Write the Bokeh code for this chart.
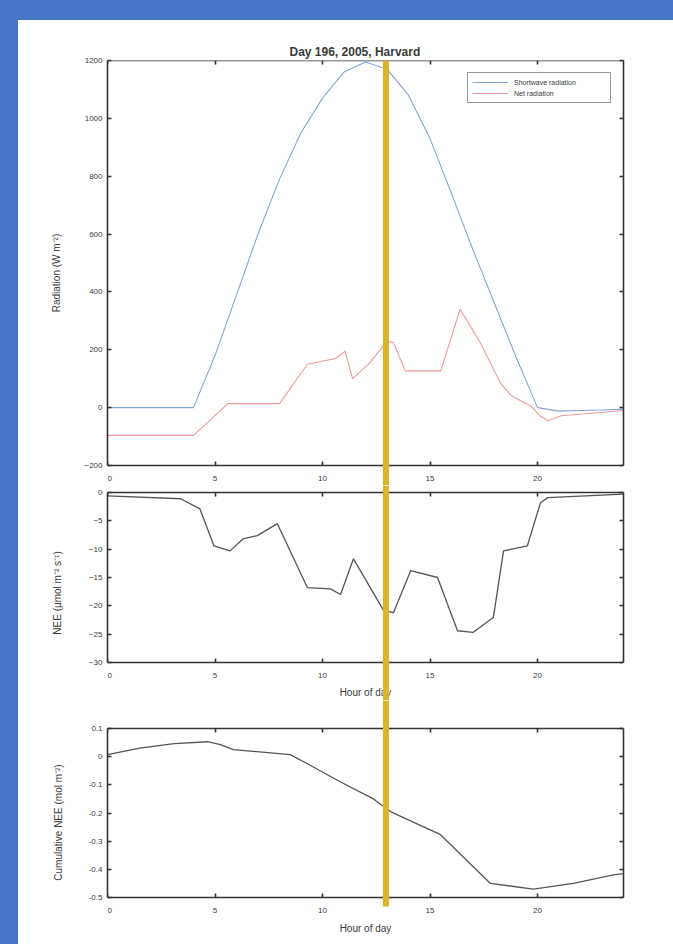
from bokeh.plotting import figure
from bokeh.layouts import column, row
from bokeh.models import (FixedTicker, LinearAxis, BoxAnnotation, Range1d, Legend,
                          LegendItem, Spacer, CustomJSTickFormatter, GlobalInlineStyleSheet,
                          CustomLabelingPolicy)
from bokeh.embed import file_html
from bokeh.resources import INLINE

# ---------------- data ----------------
HOUR_TICKS = [0, 5, 10, 15, 20]

sw_hours = [0, 1, 2, 3, 4, 5, 6, 7, 8, 9, 10, 11, 12, 13, 14, 15, 16, 17, 18, 19, 20, 21, 22, 23, 24]
sw_values = [0, 0, 0, 0, 0, 180, 390, 600, 790, 950, 1070, 1160, 1195, 1170, 1080, 930, 740, 545,
             360, 175, 0, -12, -10, -8, -5]

rn_hours = [0, 4.0, 5.6, 8.0, 9.3, 10.6, 11.05, 11.4, 12.2, 13.0, 13.3, 13.85, 15.5, 16.4, 17.3,
            18.3, 18.8, 19.7, 20.1, 20.5, 21.1, 24]
rn_values = [-96, -96, 14, 14, 150, 170, 195, 100, 155, 230, 225, 127, 127, 340, 230, 82, 40, 5,
             -28, -45, -28, -10]

nee_hours = [0, 3.4, 4.3, 4.95, 5.7, 6.3, 6.97, 7.9, 9.3, 10.37, 10.84, 11.44, 12.84, 13.3, 14.1,
             15.35, 16.28, 17.0, 17.95, 18.42, 19.53, 20.14, 20.47, 24]
nee_values = [-0.6, -1.1, -2.9, -9.4, -10.3, -8.2, -7.6, -5.5, -16.8, -17.0, -18.0, -11.7, -20.8,
              -21.2, -13.8, -15.0, -24.4, -24.7, -22.0, -10.3, -9.4, -1.8, -0.9, -0.3]

cum_hours = [0, 1.5, 3.1, 4.65, 5.25, 5.86, 8.5, 9.3, 10.84, 12.37, 13.16, 15.49, 17.81, 19.81,
             21.67, 23.53, 24]
cum_values = [0.007, 0.03, 0.046, 0.053, 0.043, 0.025, 0.007, -0.025, -0.09, -0.15, -0.195, -0.277,
              -0.45, -0.47, -0.45, -0.42, -0.415]

RAD_LIM = (-200, 1200)
NEE_LIM = (-30, 0)
CUM_LIM = (-0.5, 0.1)
RAD_TICKS = [-200, 0, 200, 400, 600, 800, 1000, 1200]
NEE_TICKS = [-30, -25, -20, -15, -10, -5, 0]
CUM_TICKS = [-0.5, -0.4, -0.3, -0.2, -0.1, 0, 0.1]

CURSOR_HOUR = 12.95
TITLE = "Day 196, 2005, Harvard"
LEGEND_LABELS = ["Shortwave radiation", "Net radiation"]

# ---------------- styles / layout ----------------
BG = "#4a76c8"
AX = "#333333"
TXT = "#3a3a3a"
YELLOW = "#d8b52a"
W = 655
NO_LABELS_CODE = """
const arr = [...indices]
for (const i of arr) indices.unset(i)
return indices
"""


def style_axis(ax, labels=True, standoff=8):
    ax.axis_line_color = AX
    ax.axis_line_width = 1.6
    ax.major_tick_in = 4
    ax.major_tick_out = 0
    ax.major_tick_line_color = AX
    ax.major_tick_line_width = 1.6
    ax.minor_tick_line_color = None
    ax.major_label_text_color = TXT
    ax.major_label_text_font_size = "8px"
    ax.major_label_standoff = standoff
    ax.axis_label_text_font_size = "10px"
    ax.axis_label_text_font_style = "normal"
    ax.axis_label_text_color = TXT
    if not labels:
        ax.major_label_policy = CustomLabelingPolicy(code=NO_LABELS_CODE)
        ax.major_label_standoff = 0


def padded(lim, panel_px, pad_top_px, pad_bottom_px):
    lo, hi = lim
    per_px = (hi - lo) / panel_px
    return lo - pad_bottom_px * per_px, hi + pad_top_px * per_px


def make_fig(height, lim, yticks, panel_px, pad_top, pad_bottom, border_top):
    ylo, yhi = padded(lim, panel_px, pad_top, pad_bottom)
    p = figure(width=W, height=height, x_range=Range1d(0, 24), y_range=Range1d(ylo, yhi),
               min_border_left=89, min_border_right=50, min_border_top=border_top,
               min_border_bottom=0, output_backend="svg", toolbar_location=None)
    p.grid.visible = False
    p.outline_line_color = None
    p.background_fill_color = "white"
    p.border_fill_color = "white"
    xb = p.xaxis[0]
    yl = p.yaxis[0]
    xb.ticker = FixedTicker(ticks=HOUR_TICKS)
    xb.fixed_location = lim[0]
    xb.major_label_overrides = {0: "\u00a0\u00a00"}
    yl.ticker = FixedTicker(ticks=yticks)
    yl.bounds = lim
    style_axis(xb, True, 8)
    style_axis(yl, True, 5)
    xt = LinearAxis(ticker=FixedTicker(ticks=HOUR_TICKS), fixed_location=lim[1])
    style_axis(xt, False)
    p.add_layout(xt, "above")
    yr = LinearAxis(ticker=FixedTicker(ticks=yticks), bounds=lim)
    style_axis(yr, False)
    p.add_layout(yr, "right")
    return p, xb, yl


# ---- top panel (plot box 405 px tall, 20 px of gap below it) ----
p1, p1x, p1y = make_fig(465, RAD_LIM, RAD_TICKS, 405, 0, 20, 40)
p1y.axis_label = "Radiation (W m\u207b\u00b2)"
p1y.axis_label_standoff = 19
p1.title.text = TITLE
p1.title.align = "left"
p1.title.offset = 182
p1.title.text_font_size = "12px"
p1.title.text_font_style = "bold"
p1.title.text_color = TXT
p1.title.standoff = 4
r_sw = p1.line(sw_hours, sw_values, line_color="#86a6d6", line_width=1.1)
r_rn = p1.line(rn_hours, rn_values, line_color="#ee9a9a", line_width=1.1)
leg = Legend(items=[LegendItem(label=LEGEND_LABELS[0], renderers=[r_sw]),
                    LegendItem(label=LEGEND_LABELS[1], renderers=[r_rn])],
             location="top_right")
leg.margin = 12
leg.padding = 4
leg.spacing = 1
leg.glyph_width = 36
leg.glyph_height = 10
leg.label_height = 10
leg.label_width = 92
leg.label_standoff = 6
leg.label_text_font_size = "7px"
leg.label_text_color = TXT
leg.border_line_color = AX
leg.border_line_width = 1.6
leg.background_fill_alpha = 1
p1.add_layout(leg)
p1.add_layout(BoxAnnotation(left=CURSOR_HOUR - 0.14, right=CURSOR_HOUR + 0.14,
                            fill_color=YELLOW, fill_alpha=1, line_color=None, level="overlay"))

# ---- middle panel (plot box 170 px, 7 px gap above, 38 px below) ----
p2, p2x, p2y = make_fig(215, NEE_LIM, NEE_TICKS, 170, 7, 38, 0)
p2y.axis_label = "NEE (\u00b5mol m\u207b\u00b2 s\u207b\u00b9)"
p2y.axis_label_standoff = 23
p2x.axis_label = "Hour of day"
p2x.axis_label_standoff = 4
p2.line(nee_hours, nee_values, line_color="#555555", line_width=1.3)
p2.add_layout(BoxAnnotation(left=CURSOR_HOUR - 0.14, right=CURSOR_HOUR + 0.14,
                            fill_color=YELLOW, fill_alpha=1, line_color=None, level="overlay"))

# ---- bottom panel (plot box 169 px, 28 px gap above, 47 px below) ----
p3, p3x, p3y = make_fig(244, CUM_LIM, CUM_TICKS, 169, 28, 47, 0)
p3y.formatter = CustomJSTickFormatter(code="return String(Number(tick.toFixed(2)));")
p3y.axis_label = "Cumulative NEE (mol m\u207b\u00b2)"
p3y.axis_label_standoff = 22
p3x.axis_label = "Hour of day"
p3x.axis_label_standoff = 5
p3.line(cum_hours, cum_values, line_color="#555555", line_width=1.3)
cursor_bottom = padded(CUM_LIM, 169, 0, 9)[0]
p3.add_layout(BoxAnnotation(left=CURSOR_HOUR - 0.14, right=CURSOR_HOUR + 0.14,
                            bottom=cursor_bottom, fill_color=YELLOW, fill_alpha=1,
                            line_color=None, level="overlay"))

root = column(
    Spacer(width=673, height=20, styles={"background-color": BG}),
    row(Spacer(width=18, height=924, styles={"background-color": BG}),
        column(p1, p2, p3, spacing=0, styles={"background-color": "white"}), spacing=0),
    spacing=0,
    stylesheets=[GlobalInlineStyleSheet(css="html, body { margin: 0; padding: 0; overflow: hidden; }")],
)

open("out.html", "w").write(file_html(root, INLINE))
